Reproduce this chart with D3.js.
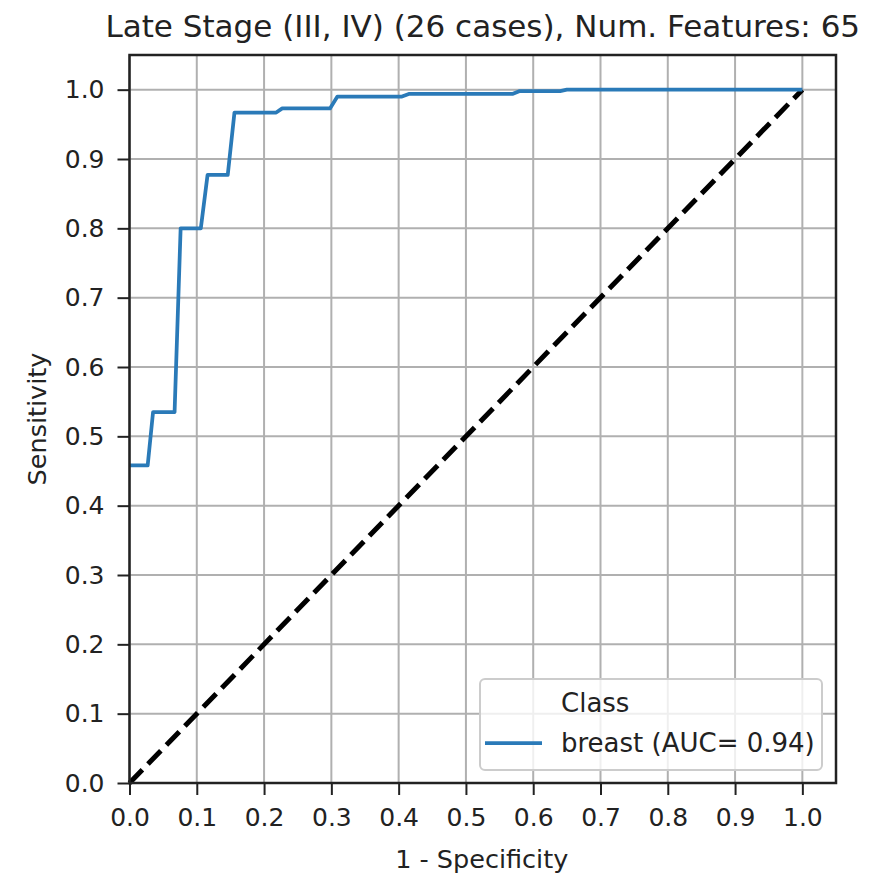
<!DOCTYPE html>
<html>
<head>
<meta charset="utf-8">
<script src="https://cdn.jsdelivr.net/npm/d3@7/dist/d3.min.js"></script>
<style>
  html, body { margin: 0; padding: 0; background: #fff; }
  svg { display: block; font-family: "DejaVu Sans", sans-serif; }
</style>
</head>
<body>
<svg id="chart" width="869" height="876"></svg>
<script>
// ---- data ----
const titleText = "Late Stage (III, IV) (26 cases), Num. Features: 65";
const xLabel = "1 - Specificity";
const yLabel = "Sensitivity";
const legendTitle = "Class";
const seriesName = "breast (AUC= 0.94)";
const tickValues = [0, 0.1, 0.2, 0.3, 0.4, 0.5, 0.6, 0.7, 0.8, 0.9, 1.0];
const fpr = [0, 0.027, 0.035, 0.067, 0.076, 0.106, 0.116, 0.146, 0.156, 0.218, 0.227, 0.298, 0.309, 0.405, 0.416, 0.57, 0.58, 0.64, 0.65, 1.0];
const tpr = [0.458, 0.458, 0.535, 0.535, 0.80, 0.80, 0.877, 0.877, 0.967, 0.967, 0.973, 0.973, 0.99, 0.99, 0.994, 0.994, 0.998, 0.998, 1.0, 1.0];
const chanceX = [0, 1];
const chanceY = [0, 1];

// ---- layout ----
const plotL = 129.5, plotR = 836, plotT = 55, plotB = 783;
const svg = d3.select("#chart");
const x = d3.scaleLinear().domain([0, 1.05]).range([plotL, plotR]);
const y = d3.scaleLinear().domain([0, 1.05]).range([plotB, plotT]);
const textColor = "#222";
const axisColor = "#222";
const blue = "#2a7ab8";

// grid
const grid = svg.append("g");
grid.selectAll("line.vx").data(tickValues).join("line")
  .attr("x1", d => x(d)).attr("x2", d => x(d))
  .attr("y1", plotT).attr("y2", plotB)
  .attr("stroke", "#b0b0b0").attr("stroke-width", 2);
grid.selectAll("line.hy").data(tickValues).join("line")
  .attr("y1", d => y(d)).attr("y2", d => y(d))
  .attr("x1", plotL).attr("x2", plotR)
  .attr("stroke", "#b0b0b0").attr("stroke-width", 2);

// chance diagonal
const line = d3.line().x(d => x(d[0])).y(d => y(d[1]));
svg.append("path")
  .datum(d3.zip(chanceX, chanceY))
  .attr("d", line)
  .attr("fill", "none")
  .attr("stroke", "#000")
  .attr("stroke-width", 5)
  .attr("stroke-dasharray", "18.5,8");

// ROC curve
svg.append("path")
  .datum(d3.zip(fpr, tpr))
  .attr("d", line)
  .attr("fill", "none")
  .attr("stroke", blue)
  .attr("stroke-width", 3.75)
  .attr("stroke-linejoin", "round");

// axes
const fmt = d3.format(".1f");
const xAxis = svg.append("g")
  .attr("transform", `translate(0,${plotB})`)
  .call(d3.axisBottom(x).tickValues(tickValues).tickFormat(fmt).tickSize(12).tickPadding(13));
const yAxis = svg.append("g")
  .attr("transform", `translate(${plotL},0)`)
  .call(d3.axisLeft(y).tickValues(tickValues).tickFormat(fmt).tickSize(12).tickPadding(13));
[xAxis, yAxis].forEach(g => {
  g.select(".domain").remove();
  g.selectAll(".tick line").attr("stroke", axisColor).attr("stroke-width", 2);
  g.selectAll(".tick text").attr("fill", textColor)
    .style("font-size", "25px").style("font-family", "DejaVu Sans, sans-serif");
});

// frame
svg.append("rect")
  .attr("x", plotL).attr("y", plotT)
  .attr("width", plotR - plotL).attr("height", plotB - plotT)
  .attr("fill", "none").attr("stroke", axisColor).attr("stroke-width", 2.5);

// title and labels
svg.append("text")
  .attr("x", (plotL + plotR) / 2).attr("y", 37)
  .attr("text-anchor", "middle").attr("fill", textColor)
  .style("font-size", "31px").text(titleText);
svg.append("text")
  .attr("x", (plotL + plotR) / 2 - 1).attr("y", 868)
  .attr("text-anchor", "middle").attr("fill", textColor)
  .style("font-size", "25.5px").text(xLabel);
svg.append("text")
  .attr("transform", `translate(46,${(plotT + plotB) / 2}) rotate(-90)`)
  .attr("text-anchor", "middle").attr("fill", textColor)
  .style("font-size", "25.5px").text(yLabel);

// legend
const lg = svg.append("g");
lg.append("rect")
  .attr("x", 480).attr("y", 679).attr("width", 342).attr("height", 91)
  .attr("rx", 5).attr("ry", 5)
  .attr("fill", "#fff").attr("fill-opacity", 0.8)
  .attr("stroke", "#cccccc").attr("stroke-width", 2);
lg.append("text")
  .attr("x", 561).attr("y", 712).attr("fill", textColor)
  .style("font-size", "26px").text(legendTitle);
lg.append("line")
  .attr("x1", 485).attr("x2", 542).attr("y1", 743).attr("y2", 743)
  .attr("stroke", blue).attr("stroke-width", 3.75);
lg.append("text")
  .attr("x", 561).attr("y", 752).attr("fill", textColor)
  .style("font-size", "26px").text(seriesName);
</script>
</body>
</html>
